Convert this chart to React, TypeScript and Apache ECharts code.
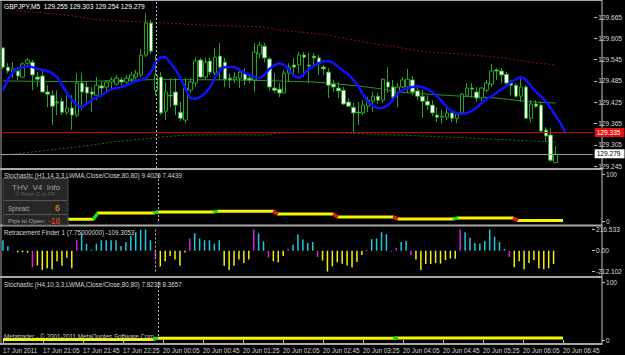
import React, { useEffect, useRef } from "react";
import * as echarts from "echarts";

const N = 120; // category slots (113 bars + right margin)
const BARS = 113;

const timeLabels = [
  "17 Jun 2011", "17 Jun 21:05", "17 Jun 21:45", "17 Jun 22:25", "20 Jun 00:05",
  "20 Jun 00:45", "20 Jun 01:25", "20 Jun 02:05", "20 Jun 02:45", "20 Jun 03:25",
  "20 Jun 04:05", "20 Jun 04:45", "20 Jun 05:25", "20 Jun 06:05", "20 Jun 06:45",
];

const priceTicks = [129.245, 129.305, 129.365, 129.425, 129.485, 129.545, 129.605, 129.665];
const openLevel = 129.335;
const bidLevel = 129.279;
const cursorBar = "31";

// [open, close, low, high]
const ohlc: number[][] = [
  [129.578, 129.524, 129.519, 129.58], [129.524, 129.513, 129.507, 129.535], [129.51, 129.519, 129.493, 129.538],
  [129.513, 129.499, 129.488, 129.524], [129.496, 129.533, 129.493, 129.538], [129.535, 129.544, 129.53, 129.55],
  [129.538, 129.502, 129.459, 129.544], [129.496, 129.49, 129.468, 129.51], [129.499, 129.454, 129.451, 129.516],
  [129.454, 129.448, 129.411, 129.473], [129.445, 129.414, 129.361, 129.459], [129.426, 129.423, 129.389, 129.459],
  [129.428, 129.397, 129.389, 129.437], [129.397, 129.409, 129.389, 129.445], [129.409, 129.389, 129.347, 129.445],
  [129.389, 129.479, 129.383, 129.507], [129.479, 129.454, 129.403, 129.507], [129.468, 129.451, 129.423, 129.482],
  [129.454, 129.448, 129.397, 129.468], [129.445, 129.473, 129.431, 129.496], [129.471, 129.465, 129.44, 129.482],
  [129.468, 129.482, 129.451, 129.488], [129.482, 129.488, 129.465, 129.496], [129.476, 129.493, 129.471, 129.502],
  [129.488, 129.482, 129.473, 129.496], [129.482, 129.493, 129.476, 129.502], [129.49, 129.502, 129.482, 129.51],
  [129.496, 129.507, 129.49, 129.516], [129.502, 129.558, 129.496, 129.575], [129.558, 129.648, 129.552, 129.676],
  [129.648, 129.569, 129.561, 129.657], [129.459, 129.502, 129.445, 129.558], [129.496, 129.395, 129.389, 129.51],
  [129.4, 129.454, 129.375, 129.482], [129.445, 129.443, 129.411, 129.493], [129.454, 129.417, 129.389, 129.493],
  [129.397, 129.38, 129.372, 129.426], [129.375, 129.465, 129.366, 129.493], [129.459, 129.482, 129.451, 129.493],
  [129.479, 129.541, 129.468, 129.552], [129.544, 129.496, 129.493, 129.55], [129.496, 129.538, 129.488, 129.55],
  [129.541, 129.51, 129.502, 129.55], [129.507, 129.552, 129.502, 129.578], [129.555, 129.524, 129.488, 129.592],
  [129.538, 129.49, 129.468, 129.55], [129.493, 129.488, 129.465, 129.507], [129.49, 129.496, 129.479, 129.51],
  [129.493, 129.51, 129.465, 129.521], [129.507, 129.488, 129.473, 129.521], [129.493, 129.488, 129.479, 129.502],
  [129.488, 129.566, 129.454, 129.592], [129.561, 129.586, 129.55, 129.595], [129.583, 129.55, 129.538, 129.592],
  [129.547, 129.468, 129.459, 129.552], [129.465, 129.459, 129.451, 129.507], [129.462, 129.451, 129.44, 129.479],
  [129.451, 129.507, 129.451, 129.516], [129.507, 129.524, 129.482, 129.535], [129.53, 129.524, 129.502, 129.55],
  [129.53, 129.558, 129.507, 129.566], [129.558, 129.552, 129.496, 129.566], [129.53, 129.527, 129.479, 129.564],
  [129.555, 129.55, 129.524, 129.564], [129.55, 129.533, 129.502, 129.558], [129.524, 129.519, 129.502, 129.53],
  [129.51, 129.473, 129.437, 129.521], [129.476, 129.468, 129.454, 129.488], [129.465, 129.457, 129.437, 129.482],
  [129.459, 129.42, 129.417, 129.468], [129.426, 129.414, 129.411, 129.437], [129.411, 129.395, 129.341, 129.423],
  [129.397, 129.395, 129.361, 129.426], [129.395, 129.417, 129.389, 129.431], [129.414, 129.431, 129.397, 129.44],
  [129.428, 129.442, 129.397, 129.454], [129.442, 129.431, 129.42, 129.451], [129.431, 129.49, 129.423, 129.493],
  [129.482, 129.468, 129.451, 129.524], [129.468, 129.44, 129.431, 129.488], [129.451, 129.468, 129.411, 129.479],
  [129.468, 129.488, 129.465, 129.496], [129.468, 129.49, 129.451, 129.519], [129.488, 129.454, 129.445, 129.499],
  [129.457, 129.442, 129.431, 129.468], [129.442, 129.428, 129.38, 129.459], [129.428, 129.417, 129.403, 129.445],
  [129.417, 129.395, 129.386, 129.431], [129.389, 129.383, 129.369, 129.411], [129.383, 129.386, 129.366, 129.403],
  [129.383, 129.395, 129.375, 129.409], [129.395, 129.38, 129.369, 129.403], [129.38, 129.392, 129.366, 129.397],
  [129.395, 129.448, 129.392, 129.451], [129.445, 129.465, 129.44, 129.479], [129.465, 129.462, 129.437, 129.479],
  [129.454, 129.437, 129.426, 129.468], [129.437, 129.465, 129.426, 129.468], [129.459, 129.479, 129.454, 129.488],
  [129.476, 129.513, 129.468, 129.533], [129.516, 129.513, 129.488, 129.521], [129.513, 129.502, 129.479, 129.521],
  [129.504, 129.479, 129.468, 129.51], [129.479, 129.473, 129.445, 129.488], [129.473, 129.442, 129.437, 129.479],
  [129.442, 129.468, 129.426, 129.493], [129.468, 129.38, 129.38, 129.473], [129.38, 129.42, 129.369, 129.431],
  [129.42, 129.414, 129.409, 129.431], [129.417, 129.344, 129.338, 129.426], [129.347, 129.33, 129.313, 129.355],
  [129.333, 129.262, 129.257, 129.352], [129.255, 129.279, 129.254, 129.303],
];

const blueMA = [
  129.459, 129.488, 129.51, 129.519, 129.524, 129.527, 129.524, 129.519, 129.516, 129.513,
  129.507, 129.496, 129.473, 129.451, 129.431, 129.417, 129.411, 129.42, 129.431, 129.44,
  129.445, 129.454, 129.462, 129.465, 129.468, 129.473, 129.479, 129.485, 129.488, 129.493,
  129.51, 129.538, 129.552, 129.552, 129.535, 129.516, 129.493, 129.462, 129.437, 129.434,
  129.44, 129.451, 129.468, 129.496, 129.516, 129.524, 129.524, 129.524, 129.516, 129.507,
  129.502, 129.496, 129.493, 129.502, 129.519, 129.53, 129.535, 129.53, 129.516, 129.499,
  129.493, 129.504, 129.519, 129.527, 129.535, 129.541, 129.541, 129.535, 129.524, 129.513,
  129.504, 129.488, 129.471, 129.445, 129.426, 129.414, 129.409, 129.409, 129.417, 129.431,
  129.451, 129.459, 129.465, 129.468, 129.471, 129.468, 129.462, 129.454, 129.442, 129.426,
  129.411, 129.4, 129.395, 129.392, 129.395, 129.4, 129.411, 129.423, 129.434, 129.442,
  129.451, 129.462, 129.471, 129.482, 129.49, 129.496, 129.488, 129.471, 129.454, 129.442,
  129.428, 129.409, 129.386, 129.366, 129.338,
];

const upperBandIdx = [1, 6, 13, 18, 24, 29, 34, 40, 46, 53, 56, 60, 66, 73, 80, 86, 93, 100, 107, 112];
const upperBandVal = [129.688, 129.679, 129.671, 129.659, 129.654, 129.651, 129.648, 129.642, 129.64, 129.637,
  129.628, 129.623, 129.614, 129.595, 129.58, 129.566, 129.561, 129.552, 129.538, 129.53];
const lowerBandIdx = [0, 6, 13, 18, 22, 30, 37, 46, 53, 56, 63, 70, 80, 90, 100, 107, 112];
const lowerBandVal = [129.276, 129.285, 129.296, 129.304, 129.313, 129.324, 129.333, 129.335, 129.333, 129.338,
  129.341, 129.338, 129.333, 129.327, 129.321, 129.316, 129.313];
const midLineIdx = [0, 15, 31, 47, 56, 63, 66, 72, 77, 80, 86, 93, 100, 107, 112];
const midLineVal = [129.485, 129.483, 129.489, 129.488, 129.485, 129.482, 129.479, 129.471, 129.462, 129.454,
  129.448, 129.442, 129.437, 129.426, 129.423];

const stochH1Levels = [3.6, 17, 19, 21, 15, 8.5, 4.3, 6.4, 0.8];
const stochH1Starts = [0, 19, 31, 43, 55, 67, 79, 91, 103];
const stochH4Levels = [1, 3.2, 3.6];
const stochH4Starts = [0, 31, 79];

const rfValues = [
  107, 46, -5, -18, -15, -20, -170, -150, -196, -178,
  -189, -107, -153, -71, -178, 107, 178, 71, 10, 71,
  107, 107, 107, 107, 46, 89, 153, 189, 214, 239,
  107, -82, -160, -107, -53, -89, -153, -18, 125, 178,
  125, 107, 107, 71, 107, -153, -196, -153, -89, -125,
  -89, 239, 178, 96, -71, -107, -118, -53, 18, 61,
  168, 114, 79, 89, -64, -100, -239, -160, -118, -132,
  -150, -168, -114, -43, 10, 118, 125, 189, 168, -10,
  28, 89, 100, -43, -89, -196, -136, -136, -125, -132,
  -96, -79, -82, 243, 189, 132, 79, 71, 100, 243,
  143, 89, 18, -64, -168, -107, -189, -125, -96, -178,
  -189, -178, -136,
];
const rfColorKeys = (
  "ccmyyymyyy" + "yyyyymcccc" + "cccccccccc" + "cmyyyyyymc" + "cccccyyyyy" +
  "ymccmyyymc" + "ccccmyyyyy" + "yyyymccccm" + "mccmyyyyyy" + "yyymcccccc" +
  "cccmyyyyyy" + "yyy"
).split("");
const rfPalette: Record<string, string> = { c: "#1ccbe0", y: "#f2f200", m: "#e01ee0" };

const FONT = "Liberation Sans";

function sparse(idx: number[], val: number[]) {
  const out: (number | null)[] = new Array(N).fill(null);
  idx.forEach((k, j) => (out[k] = val[j]));
  return out;
}
function expandSteps(levels: number[], starts: number[]) {
  const out: (number | null)[] = new Array(N).fill(null);
  for (let i = 0; i < BARS; i++) {
    let k = 0;
    for (let j = 0; j < starts.length; j++) if (i >= starts[j]) k = j;
    out[i] = levels[k];
  }
  return out;
}
function transitions(levels: number[], starts: number[], up: boolean) {
  const out: (number | null)[] = new Array(N).fill(null);
  for (let j = 1; j < starts.length; j++) {
    if (levels[j] > levels[j - 1] === up) {
      out[starts[j] - 1] = levels[j - 1];
      out[starts[j]] = levels[j];
    }
  }
  return out;
}

export default function App() {
  const ref = useRef<HTMLDivElement>(null);
  useEffect(() => {
    if (!ref.current) return;
    const chart = echarts.init(ref.current, undefined, { renderer: "svg" });
    const cats = Array.from({ length: N }, (_, i) => String(i));
    const gridBase = { left: 0.5, width: 600 };
    const grids = [
      { ...gridBase, top: 2, height: 166 },
      { ...gridBase, top: 174, height: 47 },
      { ...gridBase, top: 229.5, height: 42 },
      { ...gridBase, top: 282, height: 58 },
    ];
    const labelInterval = (i: number) => i % 8 === 0 && i / 8 < timeLabels.length;
    const xAxes = grids.map((_, g) => ({
      type: "category",
      gridIndex: g,
      data: cats,
      boundaryGap: true,
      show: g === 3,
      offset: g === 3 ? 4 : 0,
      axisLine: { show: false },
      axisTick: { show: true, length: 3, interval: labelInterval, alignWithLabel: true, lineStyle: { color: "#c0c0c0" } },
      axisLabel: {
        interval: labelInterval,
        formatter: (_v: string, i: number) => timeLabels[i / 8] ?? "",
        align: "left",
        margin: 3,
        fontSize: 6.3,
        fontFamily: FONT,
        color: "#d8d8d8",
        hideOverlap: false,
      },
      splitLine: { show: false },
    }));
    const yCommon = {
      position: "right",
      offset: 1.5,
      axisLine: { show: false },
      axisTick: { show: true, length: 3, lineStyle: { color: "#c0c0c0" } },
      splitLine: { show: false },
    };
    const lblStyle = { fontSize: 6.6, fontFamily: FONT, color: "#d8d8d8", margin: 4 };
    const yAxes = [
      {
        ...yCommon, type: "value", gridIndex: 0, min: 129.24, max: 129.7073,
        axisTick: { ...yCommon.axisTick, customValues: priceTicks },
        axisLabel: { ...lblStyle, customValues: priceTicks, formatter: (v: number) => v.toFixed(3) },
      },
      {
        ...yCommon, type: "value", gridIndex: 1, min: 0, max: 100,
        axisTick: { ...yCommon.axisTick, customValues: [0, 100] },
        axisLabel: { ...lblStyle, customValues: [0, 100] },
      },
      {
        ...yCommon, type: "value", gridIndex: 2, min: -212.102, max: 216.533,
        axisTick: { ...yCommon.axisTick, customValues: [-212.102, 0, 216.533] },
        axisLabel: { ...lblStyle, customValues: [-212.102, 0, 216.533], formatter: (v: number) => (v === 0 ? "0.00" : v.toFixed(3)) },
      },
      {
        ...yCommon, type: "value", gridIndex: 3, min: 0, max: 100,
        axisTick: { ...yCommon.axisTick, customValues: [0, 100] },
        axisLabel: { ...lblStyle, customValues: [0, 100] },
      },
    ];

    const cursorLine = {
      symbol: "none", silent: true, label: { show: false },
      lineStyle: { color: "#b8b8b8", type: [2, 2], width: 1 },
      data: [{ xAxis: cursorBar }],
    };
    const thin = (color: string, type: any = "solid") => ({ color, width: 1, type });
    const priceBox = (bg: string, fg: string, level: number) => ({
      show: true, position: "end", distance: 2, formatter: () => level.toFixed(3),
      backgroundColor: bg, color: fg, fontSize: 6.6, fontFamily: FONT, padding: [1, 4, 1, 2],
    });

    const series: any[] = [
      {
        type: "line", xAxisIndex: 0, yAxisIndex: 0, data: sparse(upperBandIdx, upperBandVal),
        connectNulls: true, symbol: "none", lineStyle: thin("#8a1020", [2, 2]), z: 1,
      },
      {
        type: "line", xAxisIndex: 0, yAxisIndex: 0, data: sparse(lowerBandIdx, lowerBandVal),
        connectNulls: true, symbol: "none", lineStyle: thin("#2a6a2a", [2, 2]), z: 1,
      },
      {
        type: "line", xAxisIndex: 0, yAxisIndex: 0, data: sparse(midLineIdx, midLineVal),
        connectNulls: true, symbol: "none", lineStyle: thin("#2f8f2f"), z: 1,
      },
      {
        type: "candlestick", xAxisIndex: 0, yAxisIndex: 0, data: ohlc, barWidth: 4, barMinWidth: 4, z: 3,
        itemStyle: { color: "#000000", color0: "#ffffff", borderColor: "#22a622", borderColor0: "#22a622", borderWidth: 1 },
        markLine: {
          symbol: "none", silent: true,
          data: [
            { yAxis: openLevel, lineStyle: { color: "#d00000", width: 1, type: "solid" }, label: priceBox("#e01010", "#ffffff", openLevel) },
            { yAxis: bidLevel, lineStyle: { color: "#9a9a9a", width: 1, type: "solid" }, label: priceBox("#ffffff", "#000000", bidLevel) },
          ],
        },
      },
      {
        type: "line", xAxisIndex: 0, yAxisIndex: 0, data: blueMA, symbol: "none", z: 4,
        lineStyle: { color: "#1010ff", width: 2.5 }, markLine: cursorLine,
      },
      // Stochastic H1
      {
        type: "line", xAxisIndex: 1, yAxisIndex: 1, data: expandSteps(stochH1Levels, stochH1Starts),
        symbol: "none", lineStyle: { color: "#f5f500", width: 3 }, markLine: cursorLine,
      },
      {
        type: "line", xAxisIndex: 1, yAxisIndex: 1, data: transitions(stochH1Levels, stochH1Starts, true),
        symbol: "none", connectNulls: false, lineStyle: { color: "#10e010", width: 3 },
      },
      {
        type: "line", xAxisIndex: 1, yAxisIndex: 1, data: transitions(stochH1Levels, stochH1Starts, false),
        symbol: "none", connectNulls: false, lineStyle: { color: "#f01010", width: 3 },
      },
      // Retracement finder
      {
        type: "bar", xAxisIndex: 2, yAxisIndex: 2, barWidth: 1.5,
        data: rfValues.map((v, i) => ({ value: v, itemStyle: { color: rfPalette[rfColorKeys[i]] } })),
        markLine: cursorLine,
      },
      // Stochastic H4
      {
        type: "line", xAxisIndex: 3, yAxisIndex: 3, data: expandSteps(stochH4Levels, stochH4Starts),
        symbol: "none", lineStyle: { color: "#f5f500", width: 3 }, markLine: cursorLine, z: 2,
      },
      {
        type: "line", xAxisIndex: 3, yAxisIndex: 3, data: transitions(stochH4Levels, stochH4Starts, true),
        symbol: "none", connectNulls: false, lineStyle: { color: "#10e010", width: 3 }, z: 2,
      },
    ];

    const sep = (y: number) => ({
      type: "line", shape: { x1: 0, y1: y, x2: 602, y2: y }, style: { stroke: "#a8a8a8", lineWidth: 2 }, silent: true,
    });
    const txt = (x: number, y: number, text: string, fill: string, size = 7, extra: any = {}) => ({
      type: "text", x, y, silent: true, z: 100,
      style: { text, fill, font: `${size}px "${FONT}"`, textVerticalAlign: "middle", ...extra },
    });

    const graphic: any[] = [
      { type: "line", shape: { x1: 0, y1: 0.5, x2: 602, y2: 0.5 }, style: { stroke: "#a8a8a8", lineWidth: 1 } },
      { type: "line", shape: { x1: 1, y1: 0, x2: 1, y2: 344 }, style: { stroke: "#a8a8a8", lineWidth: 1 } },
      { type: "line", shape: { x1: 602, y1: 0, x2: 602, y2: 345 }, style: { stroke: "#c0c0c0", lineWidth: 1 } },
      sep(169), sep(225.5), sep(277), sep(344),
      // info box (drawn before the indicator caption so the caption stays on top)
      { type: "rect", z: 50, shape: { x: 3, y: 178.5, width: 65, height: 46.5 }, style: { fill: "#262626", stroke: "#4a4a4a", lineWidth: 1 } },
      { type: "line", z: 50, shape: { x1: 4, y1: 200.5, x2: 67, y2: 200.5 }, style: { stroke: "#555555", lineWidth: 1 } },
      { type: "line", z: 50, shape: { x1: 4, y1: 214.5, x2: 67, y2: 214.5 }, style: { stroke: "#555555", lineWidth: 1 } },
      txt(12, 187, "THV  V4  Info", "#a0a0a0", 8),
      txt(15, 194, "© Peter D in FF", "#5c5c5c", 5.8),
      txt(8, 208, "Spread:", "#a8a8a8", 6.4),
      txt(55, 208, "6", "#f0a020", 8.5),
      txt(8, 220.5, "Pips to Open:", "#a8a8a8", 6.2),
      txt(48, 220.5, "-18", "#ff4020", 8.5),
      txt(4, 6, "GBPJPY,M5  129.255 129.303 129.254 129.279", "#ffffff", 6.6),
      txt(4, 175.5, "Stochastic (H1,14,3,3,LWMA,Close/Close,80,80) 9.4026 7.4439", "#d8d8d8", 6.3),
      txt(4, 232.5, "Retracement Finder 1 (7.75000000) -109.3053", "#d8d8d8", 6.3),
      txt(4, 284.5, "Stochastic (H4,10,3,3,LWMA,Close/Close,80,80) 7.8238 8.3657", "#d8d8d8", 6.3),
      txt(4, 336, "Metatrader - © 2001-2011 MetaQuotes Software Corp.", "#c8c8c8", 6.3),
    ];

    chart.setOption({
      animation: false,
      backgroundColor: "#000000",
      grid: grids,
      xAxis: xAxes,
      yAxis: yAxes,
      series,
      graphic,
    });
    return () => chart.dispose();
  }, []);

  return (
    <div
      ref={ref}
      style={{ position: "fixed", left: 0, top: 0, width: 625, height: 355, background: "#000" }}
    />
  );
}
